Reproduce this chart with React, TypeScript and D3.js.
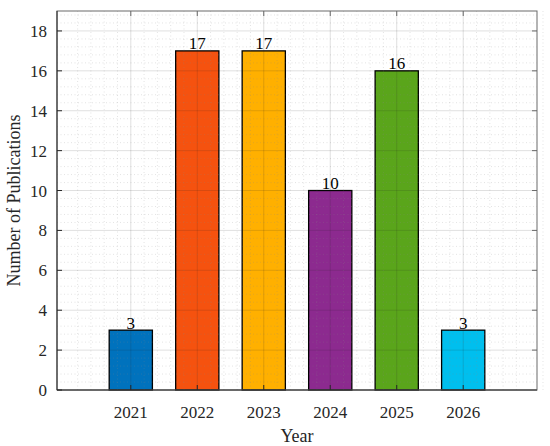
import React from 'react'
import * as d3 from 'd3'

const years = [2021, 2022, 2023, 2024, 2025, 2026]
const counts = [3, 17, 17, 10, 16, 3]
const barColors = ['#0072BD', '#F5520F', '#FFB000', '#8C2A8F', '#5AA51B', '#00BFEE']
const yTicks = [0, 2, 4, 6, 8, 10, 12, 14, 16, 18]

const App = () => {
  const width = 550
  const height = 446
  const left = 57
  const top = 11
  const right = 537
  const bottom = 390
  const font = '"Liberation Serif", "Times New Roman", serif'

  const x = d3.scaleLinear().domain([2019.89, 2027.11]).range([left, right])
  const y = d3.scaleLinear().domain([0, 19]).range([bottom, top])
  const barW = x(2021.65) - x(2021)

  const minorX = d3.range(2020, 2027.2, 0.2).filter((v) => Math.abs(v - Math.round(v)) > 0.01)
  const minorY = d3.range(0, 19.01, 0.4).filter((v) => Math.abs(v / 2 - Math.round(v / 2)) > 0.01)
  const tickLen = 5

  return (
    <svg width={width} height={height} style={{ position: 'absolute', left: 0, top: 0 }}>
      <rect x={0} y={0} width={width} height={height} fill="#fff" />
      {/* bars */}
      {years.map((yr, i) => (
        <g key={yr}>
          <rect
            x={x(yr) - barW / 2}
            y={y(counts[i])}
            width={barW}
            height={y(0) - y(counts[i])}
            fill={barColors[i]}
            stroke="#000"
            strokeWidth={1.3}
          />
          <text
            x={x(yr)}
            y={y(counts[i]) - 1.5}
            textAnchor="middle"
            fontFamily={font}
            fontSize={17}
            fill="#000"
          >
            {counts[i]}
          </text>
        </g>
      ))}
      {/* minor grid */}
      {minorX.map((v) => (
        <line key={'mx' + v} x1={x(v)} x2={x(v)} y1={top} y2={bottom} stroke="#888" strokeOpacity={0.4} strokeWidth={0.6} strokeDasharray="1,2.5" />
      ))}
      {minorY.map((v) => (
        <line key={'my' + v} x1={left} x2={right} y1={y(v)} y2={y(v)} stroke="#888" strokeOpacity={0.4} strokeWidth={0.6} strokeDasharray="1,2.5" />
      ))}
      {/* major grid */}
      {years.map((v) => (
        <line key={'gx' + v} x1={x(v)} x2={x(v)} y1={top} y2={bottom} stroke="#262626" strokeOpacity={0.14} strokeWidth={1} />
      ))}
      {yTicks.map((v) => (
        <line key={'gy' + v} x1={left} x2={right} y1={y(v)} y2={y(v)} stroke="#262626" strokeOpacity={0.14} strokeWidth={1} />
      ))}
      {/* box */}
      <rect x={left} y={top} width={right - left} height={bottom - top} fill="none" stroke="#6a6a6a" strokeWidth={1} />
      <line x1={left} x2={left} y1={top} y2={bottom} stroke="#262626" strokeWidth={1} />
      <line x1={left} x2={right} y1={bottom} y2={bottom} stroke="#262626" strokeWidth={1} />
      {/* ticks */}
      {years.map((v) => (
        <g key={'tx' + v}>
          <line x1={x(v)} x2={x(v)} y1={bottom} y2={bottom - tickLen} stroke="#262626" />
          <line x1={x(v)} x2={x(v)} y1={top} y2={top + tickLen} stroke="#6a6a6a" />
          <text x={x(v)} y={bottom + 28} textAnchor="middle" fontFamily={font} fontSize={17} fill="#262626">
            {v}
          </text>
        </g>
      ))}
      {yTicks.map((v) => (
        <g key={'ty' + v}>
          <line x1={left} x2={left + tickLen} y1={y(v)} y2={y(v)} stroke="#262626" />
          <line x1={right} x2={right - tickLen} y1={y(v)} y2={y(v)} stroke="#6a6a6a" />
          <text x={left - 10} y={y(v) + 6} textAnchor="end" fontFamily={font} fontSize={17} fill="#262626">
            {v}
          </text>
        </g>
      ))}
      <text x={(left + right) / 2} y={442} textAnchor="middle" fontFamily={font} fontSize={18} fill="#262626">
        Year
      </text>
      <text
        transform={`translate(20, ${(top + bottom) / 2}) rotate(-90)`}
        textAnchor="middle"
        fontFamily={font}
        fontSize={18}
        fill="#262626"
      >
        Number of Publications
      </text>
    </svg>
  )
}

export default App
